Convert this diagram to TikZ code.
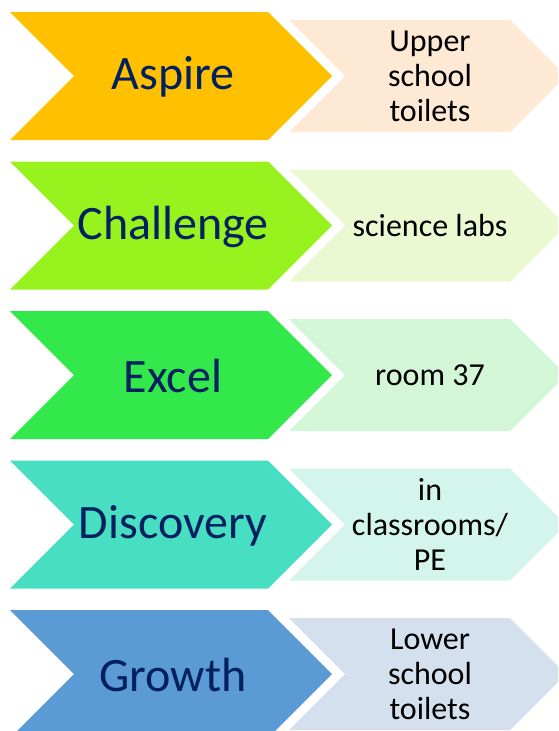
\documentclass[tikz,border=0pt]{standalone}
\usepackage{fontspec}
\setmainfont{Carlito}
\definecolor{cA}{HTML}{FFC000}\definecolor{lA}{HTML}{FDE9D4}
\definecolor{cB}{HTML}{98F21E}\definecolor{lB}{HTML}{EBF9D3}
\definecolor{cC}{HTML}{32E84A}\definecolor{lC}{HTML}{D3F7D6}
\definecolor{cD}{HTML}{48DEC1}\definecolor{lD}{HTML}{D3F5EC}
\definecolor{cE}{HTML}{5B9BD5}\definecolor{lE}{HTML}{D5E0EF}
\definecolor{navy}{HTML}{002060}
\tikzset{
  mainlabel/.style={text=navy,font=\fontsize{48}{56}\selectfont,inner sep=0pt},
  sidelabel/.style={text=black,font=\fontsize{32}{35}\selectfont,align=center,inner sep=0pt}
}
\begin{document}
\begin{tikzpicture}[x=1pt,y=-1pt]
\useasboundingbox (0,0) rectangle (558,731);
\clip (0,0) rectangle (558,731);
\foreach \t/\c/\l/\n in {12/cA/lA/1,161.5/cB/lB/2,311/cC/lC/3,460.5/cD/lD/4,610/cE/lE/5}{
  \fill[\c] (10,\t) -- (268,\t) -- (332,\t+64) -- (268,\t+128) -- (10,\t+128) -- (74,\t+64) -- cycle;
  \fill[\l] (289,\t+8) -- (510,\t+8) -- (566,\t+64) -- (510,\t+120) -- (289,\t+120) -- (345,\t+64) -- cycle;
  \coordinate (m\n) at (173,\t+65);
  \coordinate (s\n) at (430,\t+64);
}
\node[mainlabel] (t1) at (m1) {Aspire};
\node[mainlabel] (t2) at (m2) {Challenge};
\node[mainlabel] (t3) at (m3) {Excel};
\node[mainlabel] (t4) at (m4) {Discovery};
\node[mainlabel] (t5) at (m5) {Growth};
\node[sidelabel] (r1) at (s1) {Upper\\school\\toilets};
\node[sidelabel] (r2) at (s2) {science labs};
\node[sidelabel] (r3) at (s3) {room 37};
\node[sidelabel] (r4) at (s4) {in\\classrooms/\\PE};
\node[sidelabel] (r5) at (s5) {Lower\\school\\toilets};
\end{tikzpicture}
\end{document}
